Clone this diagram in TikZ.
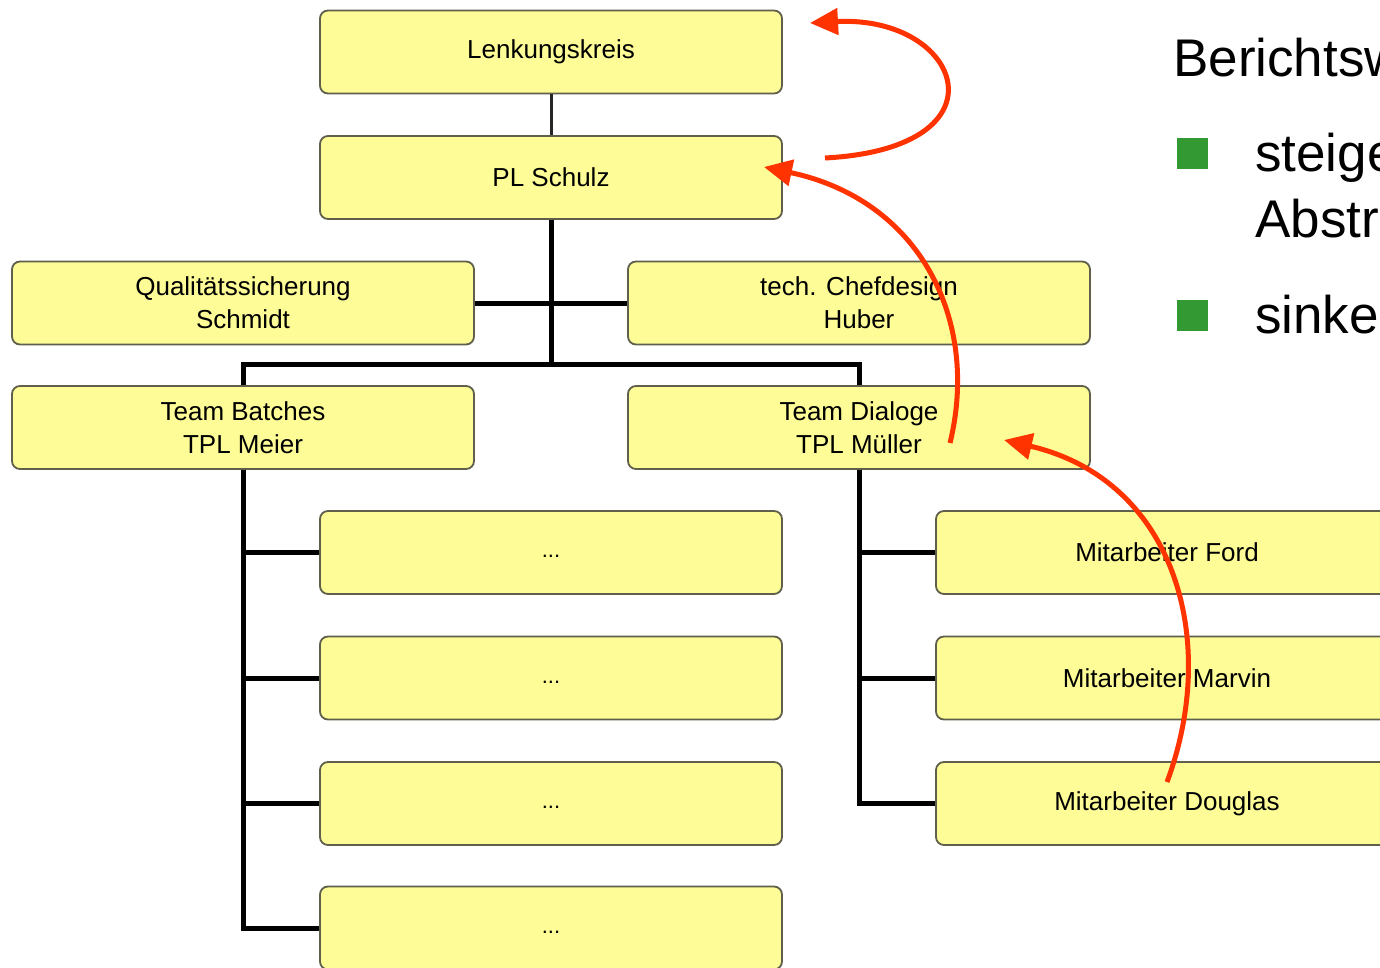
\documentclass[tikz,border=0pt]{standalone}
\usepackage{fontspec}
\setmainfont{Liberation Sans}
\usetikzlibrary{arrows.meta}
\definecolor{boxfill}{RGB}{253,252,150}
\definecolor{boxline}{RGB}{95,95,75}
\definecolor{arrred}{RGB}{255,51,0}
\definecolor{bullgreen}{RGB}{51,153,51}
\tikzset{
  orgbox/.style={draw=boxline, line width=1.8pt, fill=boxfill, rounded corners=8pt,
    minimum width=462pt, minimum height=83pt, inner sep=0pt, align=center,
    font=\fontsize{26}{33}\selectfont},
  dotsbox/.style={orgbox, font=\fontsize{22}{27}\selectfont},
  conn/.style={line width=5pt, draw=black},
  thinconn/.style={line width=3pt, draw=black!85},
  redarrow/.style={line width=5pt, draw=arrred, -{Triangle[length=28pt,width=26pt]}, fill=none},
  bigtext/.style={anchor=base west, inner sep=0pt, font=\fontsize{53}{60}\selectfont},
  bullet/.style={fill=bullgreen, draw=none, minimum size=31pt, inner sep=0pt}
}
\begin{document}
\begin{tikzpicture}[x=1pt,y=-1pt]
\useasboundingbox (0,0) rectangle (1380,968);
\clip (0,0) rectangle (1380,968);
\fill[white] (0,0) rectangle (1380,968);

% boxes
\node[orgbox] (lk) at (551,52) {Lenkungskreis};
\node[orgbox] (pl) at (551,177.5) {PL Schulz};
\node[orgbox] (qs) at (243,303) {Qualitätssicherung\\Schmidt};
\node[orgbox] (tc) at (859,303) {tech. Chefdesign\\Huber};
\node[orgbox] (tb) at (243,427.5) {Team Batches\\TPL Meier};
\node[orgbox] (td) at (859,427.5) {Team Dialoge\\TPL Müller};
\node[dotsbox] (d1) at (551,552.5) {\strut...};
\node[dotsbox] (d2) at (551,678) {\strut...};
\node[dotsbox] (d3) at (551,803.5) {\strut...};
\node[dotsbox] (d4) at (551,928) {\strut...};
\node[orgbox] (mf) at (1167,552.5) {Mitarbeiter Ford};
\node[orgbox] (mm) at (1167,678) {Mitarbeiter Marvin};
\node[orgbox] (md) at (1167,803.5) {Mitarbeiter Douglas};

% connectors
\coordinate (j) at (551,364);
\draw[thinconn] (lk.south) -- (pl.north);
\draw[conn] (pl.south) -- (j);
\draw[conn] (qs.east) -- (tc.west);
\draw[conn] (tb.north) |- (j) -| (td.north);
\draw[conn] (tb.south) |- (d1.west);
\draw[conn] (tb.south) |- (d2.west);
\draw[conn] (tb.south) |- (d3.west);
\draw[conn] (tb.south) |- (d4.west);
\draw[conn] (td.south) |- (mf.west);
\draw[conn] (td.south) |- (mm.west);
\draw[conn] (td.south) |- (md.west);

% red arrows
\coordinate (a1s) at (825,158);
\coordinate (a1e) at (810,23);
\coordinate (a2s) at (950,443);
\coordinate (a2e) at (764,167);
\coordinate (a3s) at (1167,782);
\coordinate (a3e) at (1004,440);
\draw[redarrow] (a1s) .. controls (1012,148) and (962,15) .. (a1e);
\draw[redarrow] (a2s) .. controls (980,320) and (920,200) .. (a2e);
\draw[redarrow] (a3s) .. controls (1220,640) and (1175,480) .. (a3e);

% right-hand text (cut off at the picture's edge, as in the reference)
\node[bigtext] (t0) at (1173,77) {Berichtsw};
\node[bullet] (b1) at (1192,154) {};
\node[bigtext] (t1) at (1255,172) {steige};
\node[bigtext] (t2) at (1255,237) {Abstr};
\node[bullet] (b2) at (1192,315) {};
\node[bigtext] (t3) at (1255,333) {sinke};
\end{tikzpicture}
\end{document}
